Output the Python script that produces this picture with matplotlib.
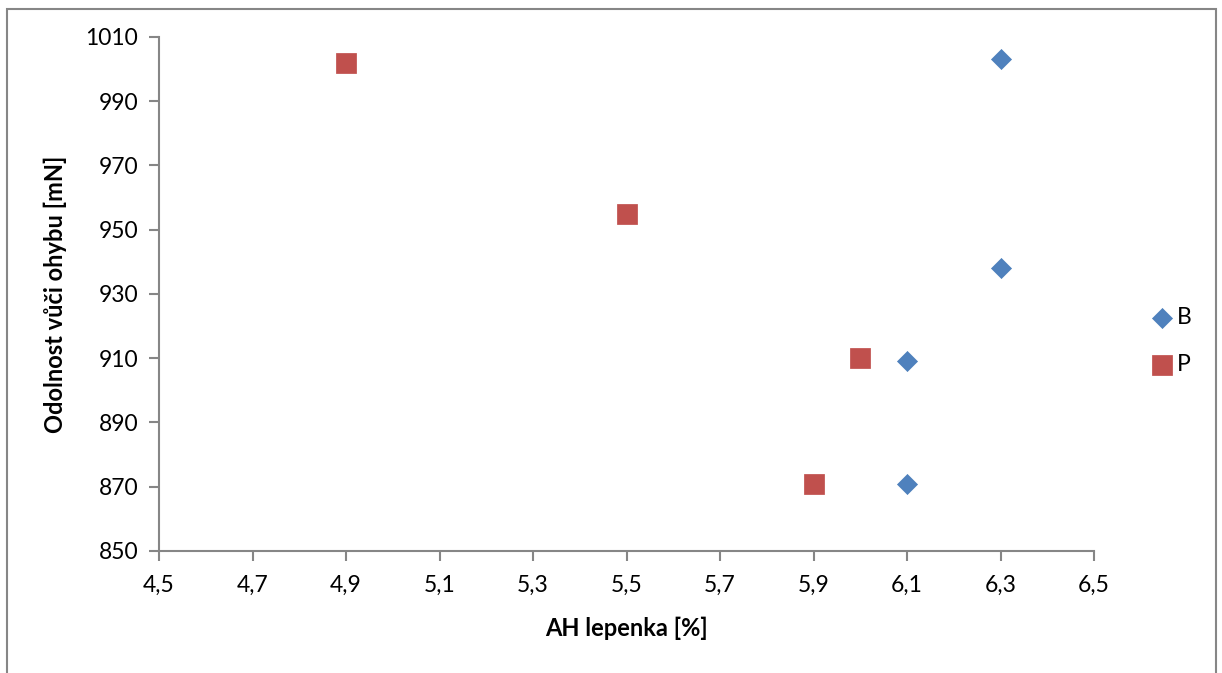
import matplotlib
matplotlib.use("Agg")
import matplotlib.pyplot as plt
from matplotlib.patches import Rectangle

plt.rcParams['font.family'] = ['Lato', 'DejaVu Sans']

b_x = [6.3, 6.3, 6.1, 6.1]
b_y = [1003, 938, 909, 871]
p_x = [4.9, 5.5, 6.0, 5.9]
p_y = [1002, 955, 910, 871]

x_ticks = [4.5, 4.7, 4.9, 5.1, 5.3, 5.5, 5.7, 5.9, 6.1, 6.3, 6.5]
y_ticks = [850, 870, 890, 910, 930, 950, 970, 990, 1010]

W, H = 1222, 673
fig = plt.figure(figsize=(W / 100, H / 100), dpi=100)
ax = fig.add_axes([159 / W, 1 - 551 / H, (1094 - 159) / W, (551 - 37) / H])

ax.scatter(b_x, b_y, marker='D', s=10.2 ** 2, color='#4F81BD', edgecolors='#4A7EBB',
           linewidths=0.5, label='B', zorder=3)
ax.scatter(p_x, p_y, marker='s', s=14.4 ** 2, color='#C0504D', edgecolors='#BE4B48',
           linewidths=0.5, label='P', zorder=3)

ax.set_xlim(4.5, 6.5)
ax.set_ylim(850, 1010)
ax.set_xticks(x_ticks)
ax.set_yticks(y_ticks)
ax.set_xticklabels([f"{v:.1f}".replace('.', ',') for v in x_ticks])
ax.set_yticklabels([str(v) for v in y_ticks])

for s in ['top', 'right']:
    ax.spines[s].set_visible(False)
for s in ['left', 'bottom']:
    ax.spines[s].set_color('#868686')
    ax.spines[s].set_linewidth(1.5)
ax.tick_params(axis='both', direction='out', length=7, width=1.5, color='#868686',
               labelsize=16.5, labelcolor='black')
ax.tick_params(axis='x', pad=10)
ax.tick_params(axis='y', pad=8)

ax.set_xlabel('AH lepenka [%]', fontsize=17, fontweight='bold', labelpad=15)
ax.set_ylabel('Odolnost vůči ohybu [mN]', fontsize=17, fontweight='bold', labelpad=13)

leg = ax.legend(loc='center left', bbox_to_anchor=(1094 / W + 0.037, 1 - 341 / H),
                bbox_transform=fig.transFigure, frameon=False, fontsize=16.5,
                handletextpad=0.05, labelspacing=1.1, borderaxespad=0, handlelength=1.2)

fig.patches.append(Rectangle((7 / W, -0.01), (1216 - 7) / W, 1 - 8.5 / H + 0.01,
                             transform=fig.transFigure, fill=False,
                             edgecolor='#868686', linewidth=1.5))

fig.savefig('out.png', dpi=100)
